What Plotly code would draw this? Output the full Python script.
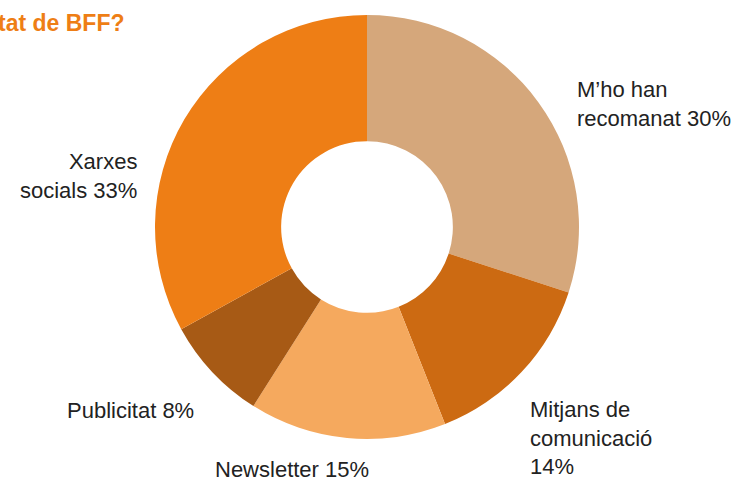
import plotly.graph_objects as go

# data
labels = ["M’ho han recomanat", "Mitjans de comunicació", "Newsletter", "Publicitat", "Xarxes socials"]
values = [30, 14, 15, 8, 33]
colors = ["#D5A77B", "#CC6A12", "#F5A95E", "#A75A15", "#EE7E15"]
title_text = "Com has conegut l'activitat de BFF?"

W, H = 747, 480

fig = go.Figure()
fig.add_trace(go.Pie(
    labels=labels,
    values=values,
    hole=0.405,
    sort=False,
    direction="clockwise",
    rotation=0,
    marker=dict(colors=colors, line=dict(width=0)),
    textinfo="none",
    hoverinfo="label+percent",
    showlegend=False,
    domain=dict(x=[155 / W, 579 / W], y=[1 - 439 / H, 1 - 15 / H]),
))

# label text (placement by hand, like the original)
lbl = [
    (f"M’ho han<br>recomanat {values[0]}%", 575, 104, "left"),
    (f"Mitjans de<br>comunicació<br>{values[1]}%", 528, 438, "left"),
    (f"Newsletter {values[2]}%", 213, 469, "left"),
    (f"Publicitat {values[3]}%", 65, 410, "left"),
    (f"Xarxes<br>socials {values[4]}%", 139, 176, "right"),
]
for txt, px, py, al in lbl:
    fig.add_annotation(
        text=txt, x=px / W, y=1 - py / H, xref="paper", yref="paper",
        xanchor=al, yanchor="middle", align=al, showarrow=False,
        font=dict(family="Liberation Sans, Arial, sans-serif", size=22, color="#222222"),
    )

# title, cut off on the left as in the source
fig.add_annotation(
    text=f"<b>{title_text}</b>", x=127 / W, y=1 - 23 / H, xref="paper", yref="paper",
    xanchor="right", yanchor="middle", showarrow=False,
    font=dict(family="Liberation Sans, Arial, sans-serif", size=23, color="#EE7E15"),
)

fig.update_layout(
    width=W, height=H,
    margin=dict(l=0, r=0, t=0, b=0),
    paper_bgcolor="white",
    plot_bgcolor="white",
)

fig.write_html("out.html", config={"displayModeBar": False},
               post_script="document.body.style.margin='0';")
